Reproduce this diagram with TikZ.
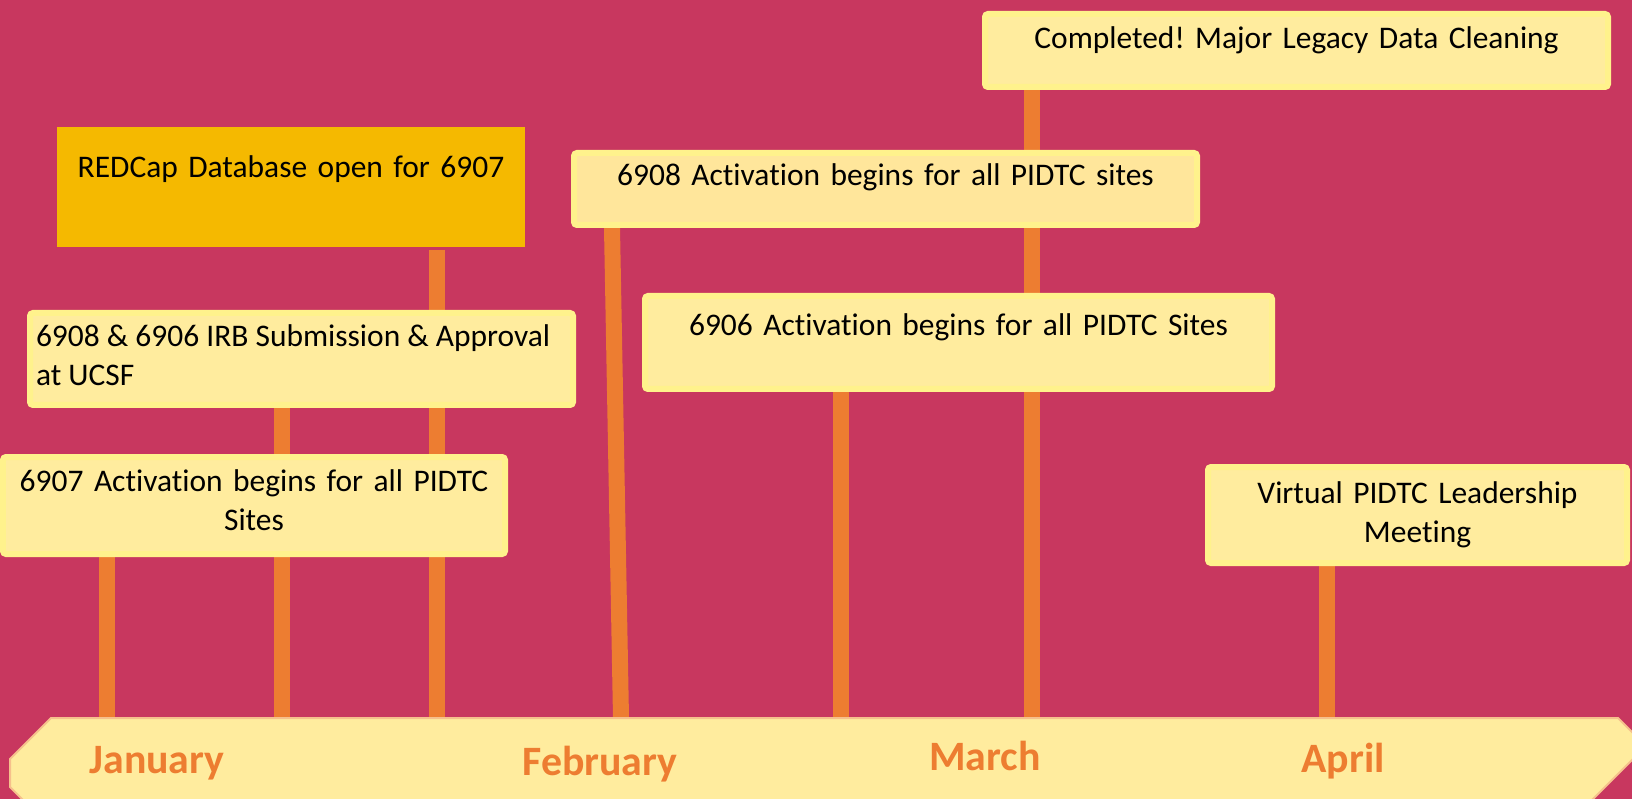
\documentclass[tikz,border=0pt]{standalone}
\usepackage{fontspec}
\setmainfont{Carlito}[Ligatures=NoCommon]
\usetikzlibrary{backgrounds}
\definecolor{crimson}{HTML}{C8375F}
\definecolor{stemorange}{HTML}{ED7D31}
\definecolor{paleyellow}{HTML}{FFEC9E}
\definecolor{peachyellow}{HTML}{FFE69B}
\definecolor{rimyellow}{HTML}{FFF28C}
\definecolor{bandedge}{HTML}{F6C08C}
\definecolor{gold}{HTML}{F5B900}
\tikzset{>=stealth}
\frenchspacing

\begin{document}
\begin{tikzpicture}[x=0.1mm,y=-0.1mm,
  card/.style={fill=paleyellow,draw=rimyellow,line width=0.6mm,rounded corners=0.3mm,
    inner sep=0pt,anchor=north west,align=center,font=\fontsize{8.95pt}{11.3pt}\selectfont},
  stem/.style={stemorange,line width=1.6mm},
  month/.style={anchor=base,text=stemorange,font=\fontsize{11.9pt}{14pt}\selectfont\bfseries}]
\useasboundingbox (0,0) rectangle (1632,799);
\clip (0,0) rectangle (1632,799);

\node[card,text width=62.3mm,text height=3.5mm,text depth=3.8mm] (done) at (982,11) {Completed! Major Legacy Data Cleaning};
\node[card,fill=peachyellow,text width=62.3mm,text height=3.3mm,text depth=3.9mm] (act8) at (571,150) {6908 Activation begins for all PIDTC sites};
\node[card,text width=62.7mm,text height=3.9mm,text depth=5.4mm] (act6) at (642,293) {6906 Activation begins for all PIDTC Sites};
\node[card,fill=gold,draw=none,rounded corners=0pt,text width=46.8mm,text height=5.1mm,text depth=6.9mm] (redcap) at (54,124) {REDCap Database open for 6907};
\node[card,align=flush left,inner xsep=0.6mm,text width=53.1mm,text height=3.3mm,text depth=5.9mm] (irb) at (27,310) {6908 \& 6906 IRB Submission \& Approval\\at UCSF};
\node[card,text width=50.2mm,text height=3.4mm,text depth=6.3mm] (act7) at (0,454) {6907 Activation begins for all PIDTC\\Sites};
\node[card,text width=41.9mm,text height=3.6mm,text depth=6.0mm] (meeting) at (1205,464) {Virtual PIDTC Leadership\\Meeting};

\fill[paleyellow,draw=bandedge,line width=0.2mm] (51,718) -- (1618,718) -- (1646,746) -- (1590,802) -- (25,802) -- (10,787) -- (10,759) -- cycle;
\coordinate (jan1) at (107,718);
\coordinate (jan2) at (282,718);
\coordinate (jan3) at (437,718);
\coordinate (feb1) at (621,718);
\coordinate (mar1) at (841,718);
\coordinate (mar2) at (1032,718);
\coordinate (apr1) at (1327,718);

\begin{pgfonlayer}{background}
\fill[crimson] (0,0) rectangle (1632,799);
\draw[stem] (act7.south -| jan1) -- (jan1);
\draw[stem] (irb.south -| jan2) -- (jan2);
\draw[stem] (redcap.south -| jan3) -- (jan3);
\draw[stem] ([xshift=-0.9mm]act8.south -| feb1) -- (feb1);
\draw[stem] (act6.south -| mar1) -- (mar1);
\draw[stem] (done.south -| mar2) -- (mar2);
\draw[stem] (meeting.south -| apr1) -- (apr1);
\end{pgfonlayer}

\node[month] (jan) at (157,773) {January};
\node[month] (feb) at (600,775) {February};
\node[month] (mar) at (985,770) {March};
\node[month] (apr) at (1343,772) {April};
\end{tikzpicture}
\end{document}
